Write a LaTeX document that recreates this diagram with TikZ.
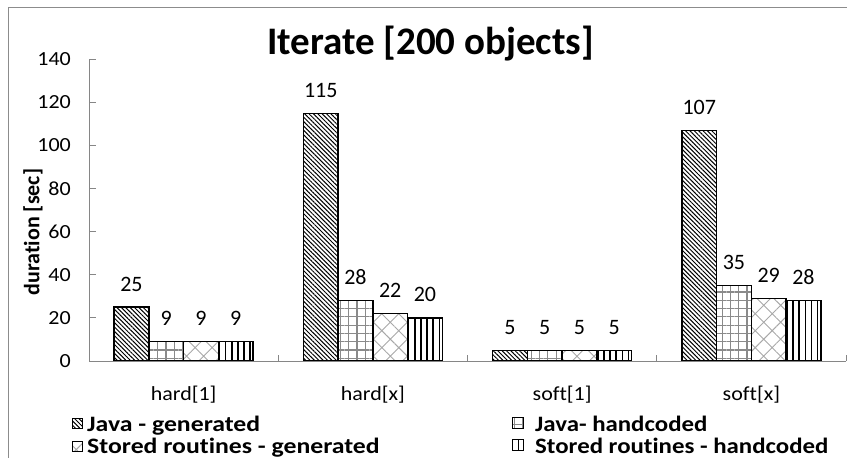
\documentclass[tikz,border=0pt]{standalone}
\usepackage{fontspec}
\usepackage{graphicx}
\setmainfont{Carlito}[Ligatures=NoCommon]
\usetikzlibrary{patterns.meta}

\definecolor{framegray}{HTML}{8C8C8C}
\definecolor{axisgray}{HTML}{868686}
\definecolor{gridgray}{HTML}{8A8A8A}
\definecolor{crossgray}{HTML}{A8A8A8}

% chart geometry (1pt = 1 unit)
\newcommand\basey{361}
\newcommand\unitpx{2.155}
\newcommand\catw{189.25}
\newcommand\barw{34.75}

\begin{document}
\begin{tikzpicture}[x=1pt,y=-1pt,
  axisline/.style={draw=axisgray, line width=1pt},
  barbox/.style={draw=black, line width=1.3pt},
  keybox/.style={draw=black, line width=0.8pt},
  series0/.style={pattern={Lines[angle=-45,distance=3.1pt,line width=1.0pt]}, pattern color=black},
  series1/.style={pattern={Hatch[angle=0,distance=8.3pt,line width=1.2pt]}, pattern color=gridgray},
  series2/.style={pattern={Hatch[angle=45,distance=12pt,line width=0.9pt]}, pattern color=crossgray},
  series3/.style={pattern={Lines[angle=90,distance=6.1pt,line width=1.4pt]}, pattern color=black},
  ticklabel/.style={font=\fontsize{20}{24}\selectfont, anchor=east, inner sep=0pt},
  catlabel/.style={font=\fontsize{20}{24}\selectfont, anchor=base, inner sep=0pt},
  vallabel/.style={font=\fontsize{22}{26}\selectfont, anchor=base, inner sep=0pt},
  keylabel/.style={font=\bfseries\fontsize{22}{26}\selectfont, anchor=base west, inner sep=0pt},
]
\useasboundingbox (0,0) rectangle (847,458);

% outer chart frame
\draw[framegray, line width=1pt] (8.5,458) -- (8.5,7.5) -- (847,7.5);

% title and axis title
\node[font=\bfseries\fontsize{39}{45}\selectfont, anchor=base, inner sep=0pt] (title) at (430.5,54) {Iterate [200 objects]};
\node[font=\bfseries\fontsize{22}{26}\selectfont, rotate=90, inner sep=0pt] (ylabel) at (33,232) {duration [sec]};

% bars with value labels
\foreach \vals [count=\i from 0] in {{25,9,9,9},{115,28,22,20},{5,5,5,5},{107,35,29,28}} {
  \foreach \v [count=\j from 0] in \vals {
    \pgfmathsetmacro\bx{89+\catw*\i+25.1+\barw*\j}
    \path[barbox, series\j] (\bx,\basey) rectangle ({\bx+\barw},{\basey-\unitpx*\v});
    \node[vallabel] (val\i\j) at ({\bx+\barw/2},{\basey-\unitpx*\v-16}) {\v};
  }
}

% value axis with inside ticks
\draw[axisline] (89,{\basey-\unitpx*140}) coordinate (ytop) -- (89,\basey) coordinate (origin);
\foreach \t in {0,20,...,140} {
  \draw[axisline] (89,{\basey-\unitpx*\t}) -- +(6.5,0);
  \node[ticklabel] (tick\t) at (71,{\basey-\unitpx*\t}) {\scalebox{1.1}[1]{\t}};
}

% category axis
\draw[axisline] (origin) -- (846,\basey) coordinate (xend);
\foreach \k in {1,2,3,4} {
  \draw[axisline] ({89+\catw*\k},\basey) -- +(0,-6.5);
}
\foreach \lab [count=\i from 0] in {{hard[1]},{hard[x]},{soft[1]},{soft[x]}} {
  \node[catlabel] (cat\i) at ({89+\catw*(\i+0.5)},400) {\scalebox{1.1}[1]{\lab}};
}

% legend
\path[keybox, series0] (72,418) rectangle (82.5,428);
\node[keylabel] (key0) at (87,431) {\scalebox{1.17}[1]{Java - generated}};
\path[keybox, series1] (512,417) rectangle (523,428);
\node[keylabel] (key1) at (535,431) {\scalebox{1.13}[1]{Java- handcoded}};
\path[keybox, series2] (72,441) rectangle (82.5,451);
\node[keylabel] (key2) at (87,453) {\scalebox{1.17}[1]{Stored routines - generated}};
\path[keybox, series3] (512,439) rectangle (523,450);
\node[keylabel] (key3) at (535,453) {\scalebox{1.13}[1]{Stored routines - handcoded}};
\end{tikzpicture}
\end{document}
